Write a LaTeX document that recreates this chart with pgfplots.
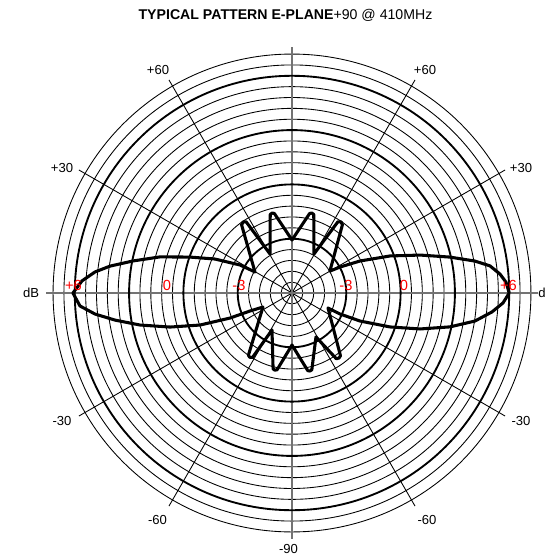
\documentclass[border=0pt]{standalone}
\usepackage{pgfplots}
\pgfplotsset{compat=1.18}
\usepgfplotslibrary{polar}
\usepackage{fontspec}
\setmainfont{Liberation Sans}
\begin{document}
\begin{tikzpicture}[x=0.75pt,y=0.75pt]
\useasboundingbox (0,0) rectangle (550,558);
\begin{polaraxis}[
  at={(219pt,198.75pt)}, anchor=origin,
  scale only axis, width=369pt, height=369pt,
  xmin=0, xmax=360, ymin=0, ymax=22.65,
  axis line style={draw=none},
  xtick={30,60,120,150,210,240,300,330},
  ytick={1,2,3,4,6,7,8,9,11,12,13,14,16,17,18,19,21,22},
  xticklabels={}, yticklabels={},
  grid=major,
  major grid style={black, line width=0.65pt},
  major tick length=0pt,
  extra y ticks={5,10,15,20},
  extra y tick labels={},
  extra y tick style={grid=major, major grid style={black, line width=1.4pt}},
  extra x ticks={0,90,180,270},
  extra x tick labels={},
  extra x tick style={grid=major, major grid style={black!55, line width=1.1pt}},
]
\addplot[black, line width=2.3pt, line join=round] coordinates {
(0,20.0) (2.9,19.73) (5.2,19.23) (7.8,18.4) (9.9,17.1) (12.8,14.92) (16.5,12.3)
(20.7,9.65) (25.2,6.92) (28.4,5.03) (30.0,4.03)
(53.5,7.8) (55.4,7.96) (57.2,7.8) (60.6,4.12)
(74.5,7.5) (76,7.59) (77.5,7.5) (90,4.88)
(102.5,7.5) (104,7.59) (105.5,7.5) (119.4,4.12)
(122.8,7.8) (124.6,7.94) (126.5,7.8) (150.4,3.92)
(151.7,5.44) (156.2,7.75) (160.6,9.96) (164.7,12.6) (168.6,14.93) (171.6,16.94)
(173.9,18.24) (176.7,19.37) (180,20.17)
(183.5,19.56) (186.1,18.24) (188.7,16.49) (191.9,14.3) (195.6,11.66) (199.2,8.97)
(202,6.16) (203.2,4.21) (205.8,2.97)
(235,7.0) (236.7,7.08) (238.5,6.95) (241.6,3.87)
(256,7.2) (257.5,7.28) (259,7.2) (270,4.79)
(281.5,7.3) (283,7.37) (284.5,7.3) (298.6,4.61)
(304,7.3) (305.9,7.39) (307.7,7.3) (337.4,3.59)
(336.4,4.82) (337.6,6.77) (340.9,9.55) (344.3,12.24) (347.9,14.88) (351.3,17.05)
(354.6,18.5) (357.3,19.45) (360,20.0)
};
\end{polaraxis}
\node[inner sep=0] at (285.5,542.5) {\fontsize{10.6}{12}\selectfont\textbf{TYPICAL PATTERN E-PLANE}+90 @ 410MHz};
\begin{scope}[font=\fontsize{9.8}{12}\selectfont, inner sep=0]
\node at (158,488) {+60};
\node at (425,488) {+60};
\node at (62,390) {+30};
\node at (521,390) {+30};
\node at (62,137) {-30};
\node at (521,137) {-30};
\node at (157.5,38) {-60};
\node at (427,38) {-60};
\node at (288.5,9) {-90};
\node at (31,265) {dB};
\node[anchor=west] at (538,265) {d};
\end{scope}
\begin{scope}[font=\fontsize{11}{13}\selectfont, inner sep=0, text=red]
\node at (73.5,273) {+6};
\node at (167,273) {0};
\node at (239,273) {-3};
\node at (346,273) {-3};
\node at (404,273) {0};
\node at (508.5,273) {+6};
\end{scope}
\end{tikzpicture}
\end{document}
